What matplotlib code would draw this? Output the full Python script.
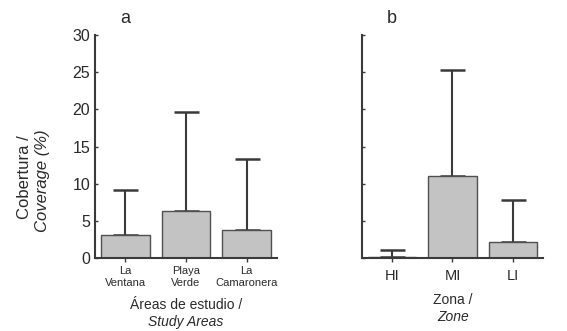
import matplotlib
matplotlib.use("Agg")
import matplotlib.pyplot as plt

plt.rcParams['font.family'] = ['Liberation Sans', 'DejaVu Sans']

# Data
areas = ["La\nVentana", "Playa\nVerde", "La\nCamaronera"]
area_mean = [3.15, 6.3, 3.8]
area_err = [5.95, 13.3, 9.5]   # upper error above the bar

zones = ["HI", "MI", "LI"]
zone_mean = [0.2, 11.0, 2.2]
zone_err = [0.85, 14.3, 5.6]

yticks = [0, 5, 10, 15, 20, 25, 30]

bar_color = "#c3c3c3"
edge_color = "#505050"
line_color = "#3a3a3a"
text_color = "#2a2a2a"

fig = plt.figure(figsize=(5.67, 3.31), dpi=100)
ax1 = fig.add_axes([0.1675, 0.2205, 0.321, 0.6737])
ax2 = fig.add_axes([0.6384, 0.2205, 0.3193, 0.6737])

for ax, cats, means, errs in [(ax1, areas, area_mean, area_err), (ax2, zones, zone_mean, zone_err)]:
    x = list(range(len(cats)))
    ax.bar(x, means, width=0.8, color=bar_color, edgecolor=edge_color, linewidth=1.0, zorder=2)
    ax.errorbar(x, means, yerr=[[0]*len(errs), errs], fmt='none', ecolor=line_color,
                elinewidth=1.5, capsize=9, capthick=1.8, zorder=1)
    ax.set_xlim(-0.5, 2.5)
    ax.set_ylim(0, 30)
    ax.set_yticks(yticks)
    ax.set_xticks(x)
    ax.spines['top'].set_visible(False)
    ax.spines['right'].set_visible(False)
    for s in ['left', 'bottom']:
        ax.spines[s].set_color(line_color)
        ax.spines[s].set_linewidth(1.5)
    ax.tick_params(axis='y', direction='in', length=2.5, color=line_color, width=1.0)
    ax.tick_params(axis='x', direction='out', length=3, color=line_color, width=1.0, pad=2.5)

ax1.set_xticklabels(areas, fontsize=8, color=text_color, linespacing=1.3)
ax1.set_yticklabels([str(t) for t in yticks], fontsize=11.5, color=text_color)
ax2.set_xticklabels(zones, fontsize=10.5, color=text_color)
ax2.tick_params(axis='x', pad=5)
ax2.set_yticklabels([])

ax1.text(0, 1.035, "a", transform=ax1.get_xaxis_transform(), ha='center', va='bottom', fontsize=13, color=text_color)
ax2.text(0, 1.035, "b", transform=ax2.get_xaxis_transform(), ha='center', va='bottom', fontsize=13, color=text_color)

# y label (two lines, second italic)
fig.text(25/567, 1-177/331, "Cobertura /", rotation=90, ha='center', va='center', fontsize=12, color=text_color)
fig.text(42/567, 1-181/331, "Coverage (%)", rotation=90, ha='center', va='center', fontsize=12, style='italic', color=text_color)

# x labels
fig.text(186/567, 1-305/331, "Áreas de estudio /", ha='center', va='center', fontsize=10, color=text_color)
fig.text(186/567, 1-322/331, "Study Areas", ha='center', va='center', fontsize=10, style='italic', color=text_color)
fig.text(453/567, 1-300/331, "Zona /", ha='center', va='center', fontsize=10, color=text_color)
fig.text(453/567, 1-317/331, "Zone", ha='center', va='center', fontsize=10, style='italic', color=text_color)

fig.savefig("out.png", dpi=100, facecolor="white")
